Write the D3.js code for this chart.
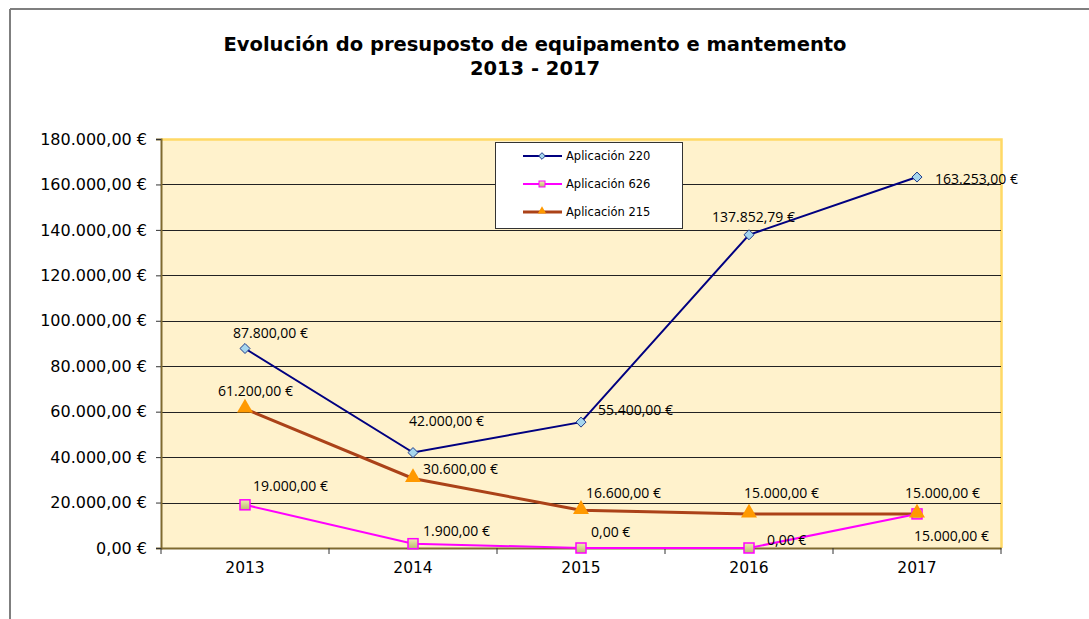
<!DOCTYPE html>
<html>
<head>
<meta charset="utf-8">
<script src="https://cdn.jsdelivr.net/npm/d3@7"></script>
<style>
  body { margin: 0; background: #fff; }
  svg { display: block; }
</style>
</head>
<body>
<svg id="chart" width="1089" height="619"></svg>
<script>
// data
var years = ["2013", "2014", "2015", "2016", "2017"];
var ap220 = [87800, 42000, 55400, 137852.79, 163253];
var ap626 = [19000, 1900, 0, 0, 15000];
var ap215 = [61200, 30600, 16600, 15000, 15000];
var yTicks = [0, 20000, 40000, 60000, 80000, 100000, 120000, 140000, 160000, 180000];
var seriesNames = ["Aplicación 220", "Aplicación 626", "Aplicación 215"];

// label offsets (dx, dy from the point) -- hand placed like the original
var off220 = [[-12, -15], [-4, -31], [17, -12], [-37, -18], [18, 2]];
var off626 = [[8, -19], [10, -13], [10, -16], [18, -8], [-3, 22]];
var off215 = [[-27, -18], [10, -9], [5, -17], [-5, -21], [-12, -21]];

var svg = d3.select("#chart");
var margin = {left: 161, top: 139, right: 88, bottom: 71};
var W = 1089, H = 619;
var pw = W - margin.left - margin.right; // 840
var ph = H - margin.top - margin.bottom; // 409

var fmt = d3.formatLocale({decimal: ",", thousands: ".", grouping: [3], currency: ["", " €"]}).format(",.2f");
function euro(v) { return fmt(v) + " €"; }

// outer frame
svg.append("line").attr("x1", 10).attr("y1", 9).attr("x2", 10).attr("y2", H)
    .attr("stroke", "#7f7f7f").attr("stroke-width", 2);
svg.append("line").attr("x1", 10).attr("y1", 9).attr("x2", W).attr("y2", 9)
    .attr("stroke", "#7f7f7f").attr("stroke-width", 2);

// title
var title = svg.append("text").attr("x", 535).attr("text-anchor", "middle")
    .style("font-family", "DejaVu Sans, Verdana, sans-serif").style("font-weight", "bold")
    .style("font-size", "19.5px").attr("fill", "#000");
title.append("tspan").attr("x", 535).attr("y", 51).text("Evolución do presuposto de equipamento e mantemento");
title.append("tspan").attr("x", 535).attr("y", 75).text("2013 - 2017");

var g = svg.append("g").attr("transform", "translate(" + margin.left + "," + margin.top + ")");

var x = d3.scaleBand().domain(years).range([0, pw]);
var y = d3.scaleLinear().domain([0, 180000]).range([ph, 0]);

// plot background
g.append("rect").attr("x", 0).attr("y", 0).attr("width", pw).attr("height", ph)
    .attr("fill", "#fff2cc");
g.append("path").attr("d", "M0,0.5H" + (pw + 0.5) + "V" + ph)
    .attr("fill", "none").attr("stroke", "#ffd966").attr("stroke-width", 2.5);

// gridlines
g.selectAll(".grid").data(yTicks.slice(1, -1)).enter().append("line")
    .attr("class", "grid")
    .attr("x1", 0).attr("x2", pw)
    .attr("y1", function(d) { return Math.round(y(d)) + 0.5; })
    .attr("y2", function(d) { return Math.round(y(d)) + 0.5; })
    .attr("stroke", "#222").attr("stroke-width", 1);

// y axis
var yAxis = g.append("g").call(d3.axisLeft(y).tickValues(yTicks).tickSize(5).tickPadding(9).tickFormat(euro));
yAxis.select(".domain").attr("stroke", "#7f6a30").attr("stroke-width", 2);
yAxis.selectAll(".tick line").attr("stroke", "#333");
yAxis.selectAll("text").style("font-family", "DejaVu Sans, Verdana, sans-serif")
    .style("font-size", "16px").attr("fill", "#000");

// x axis, ticks between categories
var xAxis = g.append("g").attr("transform", "translate(0," + ph + ")")
    .call(d3.axisBottom(x).tickSize(0).tickPadding(14));
xAxis.select(".domain").attr("stroke", "#7f6a30").attr("stroke-width", 2);
xAxis.selectAll("text").style("font-family", "DejaVu Sans, Verdana, sans-serif")
    .style("font-size", "15.5px").attr("fill", "#000");
xAxis.selectAll(".sep").data(d3.range(years.length + 1)).enter().append("line")
    .attr("class", "sep")
    .attr("x1", function(i) { return Math.round(i * x.step()); })
    .attr("x2", function(i) { return Math.round(i * x.step()); })
    .attr("y1", 0).attr("y2", 6).attr("stroke", "#333");

function cx(i) { return x(years[i]) + x.bandwidth() / 2; }

var line = d3.line().x(function(d, i) { return cx(i); }).y(function(d) { return y(d); });

// 215 (brown)
g.append("path").datum(ap215).attr("d", line).attr("fill", "none")
    .attr("stroke", "#ab4218").attr("stroke-width", 3);
// 626 (magenta)
g.append("path").datum(ap626).attr("d", line).attr("fill", "none")
    .attr("stroke", "#ff00ff").attr("stroke-width", 2);
// 220 (navy)
g.append("path").datum(ap220).attr("d", line).attr("fill", "none")
    .attr("stroke", "#000080").attr("stroke-width", 2);

var sqDef = svg.append("defs").append("linearGradient").attr("id", "sqfill")
    .attr("x1", 0).attr("y1", 0).attr("x2", 0).attr("y2", 1);
sqDef.append("stop").attr("offset", "0%").attr("stop-color", "#f0f0b0");
sqDef.append("stop").attr("offset", "100%").attr("stop-color", "#b8b870");

// markers
g.selectAll(".sq").data(ap626).enter().append("rect").attr("class", "sq")
    .attr("x", function(d, i) { return cx(i) - 5; })
    .attr("y", function(d) { return y(d) - 5; })
    .attr("width", 10).attr("height", 10)
    .attr("fill", "url(#sqfill)").attr("stroke", "#ff00ff").attr("stroke-width", 1.5);

var tri = d3.symbol().type(d3.symbolTriangle).size(110);
g.selectAll(".tri").data(ap215).enter().append("path").attr("class", "tri")
    .attr("d", tri)
    .attr("transform", function(d, i) { return "translate(" + cx(i) + "," + (y(d) - 1) + ")"; })
    .attr("fill", "#ff9900");

var dia = d3.symbol().type(d3.symbolDiamond2).size(64);
g.selectAll(".dia").data(ap220).enter().append("path").attr("class", "dia")
    .attr("d", dia)
    .attr("transform", function(d, i) { return "translate(" + cx(i) + "," + y(d) + ")"; })
    .attr("fill", "#a6d6ee").attr("stroke", "#1f3a8a").attr("stroke-width", 1);

// value labels
function labels(vals, offs, cls) {
    g.selectAll("." + cls).data(vals).enter().append("text").attr("class", cls)
        .attr("x", function(d, i) { return cx(i) + offs[i][0]; })
        .attr("y", function(d, i) { return y(d) + offs[i][1]; })
        .attr("dy", "0.35em")
        .style("font-family", "Open Sans, sans-serif").style("font-size", "14px")
        .attr("fill", "#000")
        .text(function(d) { return euro(d); });
}
labels(ap220, off220, "l220");
labels(ap626, off626, "l626");
labels(ap215, off215, "l215");

// legend
var lg = svg.append("g").attr("transform", "translate(495,142)");
lg.append("rect").attr("x", 0.5).attr("y", 0.5).attr("width", 187).attr("height", 86)
    .attr("fill", "#fff").attr("stroke", "#333").attr("stroke-width", 1);
var lcol = ["#000080", "#ff00ff", "#ab4218"];
var lw = [2, 2, 3];
seriesNames.forEach(function(n, i) {
    var yy = 14 + i * 28;
    lg.append("line").attr("x1", 28).attr("x2", 67).attr("y1", yy).attr("y2", yy)
        .attr("stroke", lcol[i]).attr("stroke-width", lw[i]);
    if (i === 0) {
        lg.append("path").attr("d", d3.symbol().type(d3.symbolDiamond2).size(28))
            .attr("transform", "translate(47," + yy + ")")
            .attr("fill", "#a6d6ee").attr("stroke", "#1f3a8a");
    } else if (i === 1) {
        lg.append("rect").attr("x", 44).attr("y", yy - 3).attr("width", 6).attr("height", 6)
            .attr("fill", "url(#sqfill)").attr("stroke", "#ff00ff");
    } else {
        lg.append("path").attr("d", d3.symbol().type(d3.symbolTriangle).size(30))
            .attr("transform", "translate(47," + (yy - 1) + ")").attr("fill", "#ff9900");
    }
    lg.append("text").attr("x", 71).attr("y", yy).attr("dy", "0.35em")
        .style("font-family", "DejaVu Sans, Verdana, sans-serif").style("font-size", "11.5px")
        .attr("fill", "#000").text(n);
});
</script>
</body>
</html>
